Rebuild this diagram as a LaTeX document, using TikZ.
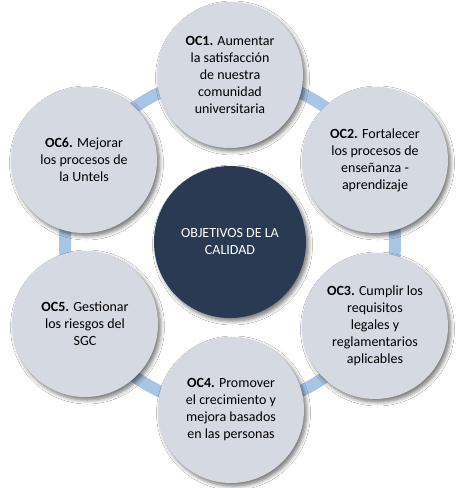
\documentclass[tikz,border=0pt]{standalone}
\usepackage{fontspec}
\setmainfont{Carlito}
\usetikzlibrary{shadows.blur}
\definecolor{outerfill}{HTML}{D4D9E2}
\definecolor{centerfill}{HTML}{2A3A52}
\definecolor{ringblue}{HTML}{A9C5E6}
\tikzset{
  objcircle/.style={circle, fill=outerfill, minimum size=146pt, inner sep=0pt, align=center,
    font=\fontsize{14}{17}\selectfont, text=black,
    blur shadow={shadow xshift=2.5pt, shadow yshift=-3pt, shadow blur steps=6, shadow opacity=55, shadow blur radius=4pt}},
  centercircle/.style={circle, fill=centerfill, minimum size=152pt, inner sep=0pt, align=center,
    font=\fontsize{14}{17}\selectfont, text=white,
    blur shadow={shadow xshift=2.5pt, shadow yshift=-3pt, shadow blur steps=6, shadow opacity=55, shadow blur radius=4pt}},
  ringline/.style={draw=ringblue, line width=12pt}
}
\begin{document}
\begin{tikzpicture}[x=1pt,y=-1pt]
\useasboundingbox (0,0) rectangle (463,488);
\fill[white] (0,0) rectangle (463,488);
\coordinate (ctr) at (230,242);
\draw[ringline] (ctr) circle[radius=165];
\node[objcircle] (oc1) at (230,75) {\textbf{OC1.} Aumentar\\la satisfacción\\de nuestra\\comunidad\\universitaria};
\node[objcircle] (oc2) at (375,160) {\textbf{OC2.} Fortalecer\\los procesos de\\enseñanza -\\aprendizaje};
\node[objcircle] (oc3) at (375,326) {\textbf{OC3.} Cumplir los\\requisitos\\legales y\\reglamentarios\\aplicables};
\node[objcircle] (oc4) at (231,410) {\textbf{OC4.} Promover\\el crecimiento y\\mejora basados\\en las personas};
\node[objcircle] (oc5) at (85,324) {\textbf{OC5.} Gestionar\\los riesgos del\\SGC};
\node[objcircle] (oc6) at (84,160) {\textbf{OC6.} Mejorar\\los procesos de\\la Untels};
\node[centercircle] (obj) at (ctr) {OBJETIVOS DE LA\\CALIDAD};
\end{tikzpicture}
\end{document}
